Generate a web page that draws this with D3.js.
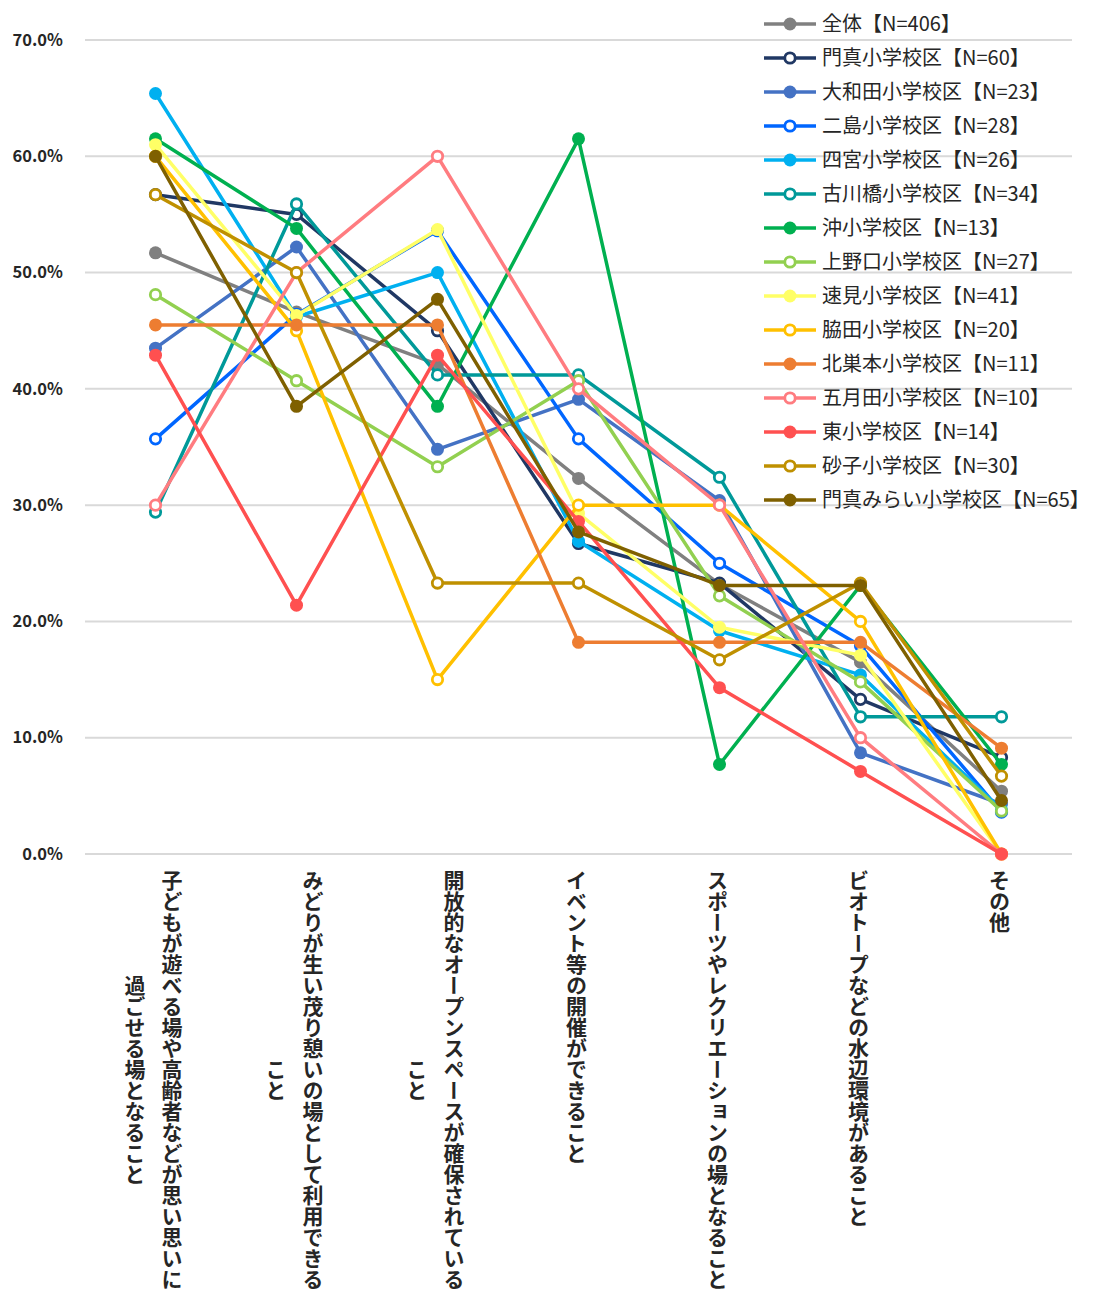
<!DOCTYPE html>
<html><head><meta charset="utf-8">
<script src="https://cdn.jsdelivr.net/npm/d3@7"></script>
<style>
html,body{margin:0;padding:0;background:#fff;}
svg{display:block;font-family:"Noto Sans CJK JP","Noto Sans",sans-serif;}
</style></head>
<body><svg id="c" width="1094" height="1295"></svg>
<script>
const categories = [
  ["子どもが遊べる場や高齢者などが思い思いに","過ごせる場となること"],
  ["みどりが生い茂り憩いの場として利用できる","こと"],
  ["開放的なオープンスペースが確保されている","こと"],
  ["イベント等の開催ができること"],
  ["スポーツやレクリエーションの場となること"],
  ["ビオトープなどの水辺環境があること"],
  ["その他"]
];
const yTicks = [0,0.1,0.2,0.3,0.4,0.5,0.6,0.7];

const seriesNames = ["全体【N=406】","門真小学校区【N=60】","大和田小学校区【N=23】","二島小学校区【N=28】","四宮小学校区【N=26】","古川橋小学校区【N=34】","沖小学校区【N=13】","上野口小学校区【N=27】","速見小学校区【N=41】","脇田小学校区【N=20】","北巣本小学校区【N=11】","五月田小学校区【N=10】","東小学校区【N=14】","砂子小学校区【N=30】","門真みらい小学校区【N=65】"];
const seriesColors = ["#808080","#203864","#4472C4","#0066FF","#00B0F0","#009999","#00B050","#92D050","#FFFF66","#FFC000","#ED7D31","#FF7C80","#FF5050","#BF9000","#7F6000"];
const seriesOpen = [false,true,false,true,false,true,false,true,false,true,false,true,false,true,false];

const zentai    = [0.517,0.466,0.421,0.323,0.232,0.165,0.054];
const kadoma    = [0.567,0.550,0.450,0.267,0.233,0.133,0.083];
const owada     = [0.435,0.522,0.348,0.391,0.304,0.087,0.043];
const futajima  = [0.357,0.464,0.536,0.357,0.250,0.179,0.036];
const shinomiya = [0.654,0.462,0.500,0.269,0.192,0.154,0.038];
const furukawa  = [0.294,0.559,0.412,0.412,0.324,0.118,0.118];
const oki       = [0.615,0.538,0.385,0.615,0.077,0.231,0.077];
const uenoguchi = [0.481,0.407,0.333,0.407,0.222,0.148,0.037];
const hayami    = [0.610,0.463,0.537,0.293,0.195,0.171,0.000];
const wakita    = [0.600,0.450,0.150,0.300,0.300,0.200,0.000];
const kitasumo  = [0.455,0.455,0.455,0.182,0.182,0.182,0.091];
const satsukida = [0.300,0.500,0.600,0.400,0.300,0.100,0.000];
const higashi   = [0.429,0.214,0.429,0.286,0.143,0.071,0.000];
const sunago    = [0.567,0.500,0.233,0.233,0.167,0.233,0.067];
const mirai     = [0.600,0.385,0.477,0.277,0.231,0.231,0.046];

const seriesValues = [zentai,kadoma,owada,futajima,shinomiya,furukawa,oki,uenoguchi,hayami,wakita,kitasumo,satsukida,higashi,sunago,mirai];

const svg = d3.select("#c");
const x = d3.scaleBand().domain(d3.range(categories.length)).range([85,1072]);
const y = d3.scaleLinear().domain([0,0.7]).range([854,40]);
const cx = i => x(i) + x.bandwidth()/2;

// gridlines
svg.append("g").selectAll("line").data(yTicks).join("line")
  .attr("x1",85).attr("x2",1072)
  .attr("y1",d=>y(d)).attr("y2",d=>y(d))
  .attr("stroke","#d9d9d9").attr("stroke-width",2);

// y labels
svg.append("g").selectAll("text").data(yTicks).join("text")
  .attr("x",63).attr("y",d=>y(d)).attr("dy","0.35em")
  .attr("text-anchor","end").attr("font-size",16.5).attr("font-weight","bold")
  .attr("fill","#262626")
  .text(d=>(d*100).toFixed(1)+"%");

// category labels (vertical)
const charH = 21, lineGap = 37, topY = 870;
categories.forEach((lines,i)=>{
  const maxLen = d3.max(lines,l=>l.length);
  const centerY = topY + maxLen*charH/2;
  const n = lines.length;
  lines.forEach((l,j)=>{
    const off = (n-1)/2*lineGap - j*lineGap;
    svg.append("text")
      .attr("x", cx(i) + off - 2)
      .attr("y", centerY)
      .attr("text-anchor","middle")
      .style("writing-mode","vertical-rl")
      .attr("font-size",21).attr("font-weight","bold")
      .attr("fill","#262626")
      .text(l);
  });
});

// series
const line = d3.line().x((d,i)=>cx(i)).y(d=>y(d));
seriesValues.forEach((vals,s)=>{
  const g = svg.append("g");
  g.append("path").attr("d",line(vals)).attr("fill","none")
    .attr("stroke",seriesColors[s]).attr("stroke-width",3.5).attr("stroke-linejoin","round");
  g.selectAll("circle").data(vals).join("circle")
    .attr("cx",(d,i)=>cx(i)).attr("cy",d=>y(d))
    .attr("r", seriesOpen[s]?5.2:6.5)
    .attr("fill", seriesOpen[s]?"#fff":seriesColors[s])
    .attr("stroke", seriesColors[s])
    .attr("stroke-width", seriesOpen[s]?2.8:0);
});

// legend
const lg = svg.append("g");
seriesNames.forEach((name,s)=>{
  const yy = 24 + s*34;
  lg.append("line").attr("x1",764).attr("x2",816).attr("y1",yy).attr("y2",yy)
    .attr("stroke",seriesColors[s]).attr("stroke-width",3.5);
  lg.append("circle").attr("cx",790).attr("cy",yy)
    .attr("r", seriesOpen[s]?5.2:6.5)
    .attr("fill", seriesOpen[s]?"#fff":seriesColors[s])
    .attr("stroke", seriesColors[s]).attr("stroke-width", seriesOpen[s]?2.8:0);
  lg.append("text").attr("x",822).attr("y",yy).attr("dy","0.36em")
    .attr("font-size",20).attr("fill","#262626").text(name);
});
</script></body></html>
